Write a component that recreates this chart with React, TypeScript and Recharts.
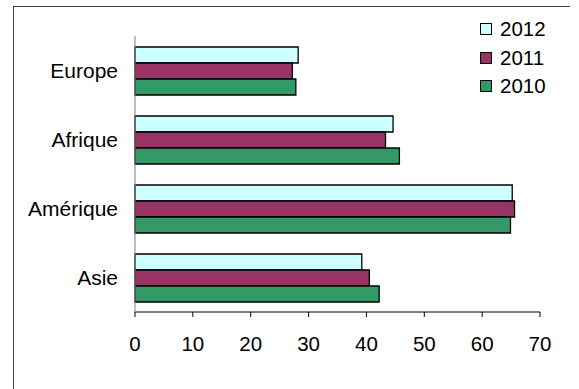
import { Bar, BarChart, Legend, XAxis, YAxis } from "recharts";

// regions, top to bottom
const regions = ["Europe", "Afrique", "Amérique", "Asie"];

// values
const values2012 = [28.2, 44.6, 65.2, 39.2];
const values2011 = [27.2, 43.3, 65.6, 40.5];
const values2010 = [27.8, 45.7, 64.9, 42.2];

const xTicks = [0, 10, 20, 30, 40, 50, 60, 70];

const series = [
  { key: "2012", color: "#CCFFFF" },
  { key: "2011", color: "#993366" },
  { key: "2010", color: "#339966" },
];

const data = regions.map((name, i) => ({
  name,
  "2012": values2012[i],
  "2011": values2011[i],
  "2010": values2010[i],
}));

const font = '"Liberation Sans", Arial, sans-serif';

function LegendBox({ payload }: any) {
  const items = [...(payload || [])].sort((a: any, b: any) =>
    String(b.value).localeCompare(String(a.value))
  );
  return (
    <div style={{ fontFamily: font, fontSize: 20.5, color: "#000" }}>
      {items.map((item: any) => (
        <div
          key={item.value}
          style={{ display: "flex", alignItems: "center", height: 28.5 }}
        >
          <span
            style={{
              width: 10,
              height: 10,
              background: item.color,
              border: "1px solid #000",
              marginRight: 8,
            }}
          />
          <span>{item.value}</span>
        </div>
      ))}
    </div>
  );
}

export default function App() {
  return (
    <div
      style={{
        position: "absolute",
        left: 0,
        top: 0,
        width: 579,
        height: 389,
        background: "#fff",
        fontFamily: font,
      }}
    >
      <div
        style={{
          position: "absolute",
          left: 13,
          top: 6,
          width: 556,
          height: 383,
          borderTop: "1px solid #404040",
          borderLeft: "1px solid #404040",
        }}
      />
      <BarChart
        width={579}
        height={389}
        data={data}
        layout="vertical"
        margin={{ top: 36, right: 39, bottom: 47, left: 0 }}
        barSize={16}
        barGap={0}
        style={{ position: "absolute", left: 0, top: 0 }}
      >
        <XAxis
          type="number"
          domain={[0, 70]}
          ticks={xTicks}
          interval={0}
          height={30}
          tickSize={5}
          tickMargin={19}
          axisLine={{ stroke: "#000" }}
          tickLine={{ stroke: "#000" }}
          tick={{ fontSize: 20.5, fill: "#000", fontFamily: font }}
        />
        <YAxis
          type="category"
          dataKey="name"
          width={135}
          tickLine={false}
          tickSize={6}
          tickMargin={11}
          axisLine={{ stroke: "#808080" }}
          tick={{ fontSize: 21, fill: "#000", fontFamily: font }}
        />
        <Legend
          layout="vertical"
          align="center"
          verticalAlign="middle"
          wrapperStyle={{ left: 480, top: 15, width: 90, height: 90 }}
          content={<LegendBox />}
        />
        {series.map((s) => (
          <Bar
            key={s.key}
            dataKey={s.key}
            name={s.key}
            fill={s.color}
            stroke="#000"
            strokeWidth={1.3}
            isAnimationActive={false}
          />
        ))}
      </BarChart>
    </div>
  );
}
